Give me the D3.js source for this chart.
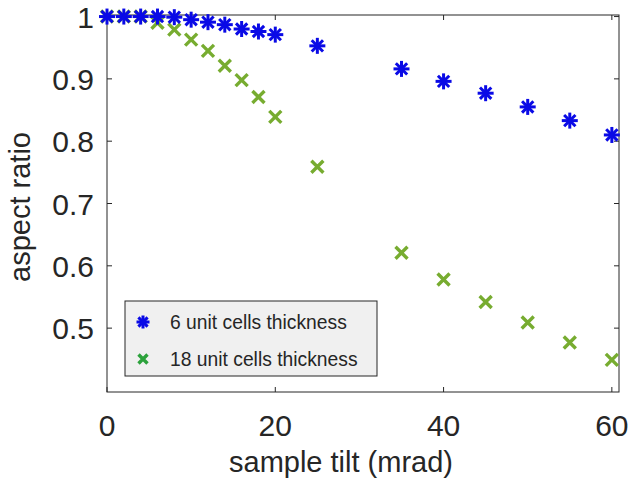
<!DOCTYPE html>
<html>
<head>
<meta charset="utf-8">
<script src="https://cdn.jsdelivr.net/npm/d3@7"></script>
<style>
    body { margin: 0; background: #fff; }
    text { font-family: "Liberation Sans", Arial, sans-serif; fill: #262626; }
</style>
</head>
<body>
<svg id="chart" width="633" height="482"></svg>
<script>
// sample tilt (mrad)
const tilt = [0, 2, 4, 6, 8, 10, 12, 14, 16, 18, 20, 25, 35, 40, 45, 50, 55, 60];
// aspect ratio, 6 unit cells
const ratio_6uc = [1.0, 1.0, 1.0, 1.0, 0.999, 0.995, 0.991, 0.987, 0.980, 0.976, 0.971, 0.953, 0.916, 0.896, 0.877, 0.855, 0.833, 0.810];
// aspect ratio, 18 unit cells
const ratio_18uc = [1.0, 1.0, 1.0, 0.990, 0.979, 0.963, 0.945, 0.921, 0.898, 0.871, 0.839, 0.759, 0.621, 0.578, 0.542, 0.509, 0.477, 0.449];
const xTicks = [0, 20, 40, 60];
const yTicks = [0.5, 0.6, 0.7, 0.8, 0.9, 1];
const series_names = ["6 unit cells thickness", "18 unit cells thickness"];

const pLeft = 107, pRight = 619, pTop = 15, pBottom = 392;

const svg = d3.select("#chart");

let xScale = d3.scaleLinear().domain([0, 60.85]).range([pLeft, pRight]);
let yScale = d3.scaleLinear().domain([0.3975, 1.0025]).range([pBottom, pTop]);

// box
svg.append("rect")
    .attr("x", pLeft).attr("y", pTop)
    .attr("width", pRight - pLeft).attr("height", pBottom - pTop)
    .attr("fill", "none").attr("stroke", "#262626").attr("stroke-width", 1);

// inward ticks on all four sides
const tk = 5;
let gTicks = svg.append("g").attr("stroke", "#262626").attr("stroke-width", 1);
xTicks.forEach(t => {
    let x = xScale(t);
    gTicks.append("line").attr("x1", x).attr("x2", x).attr("y1", pBottom).attr("y2", pBottom - tk);
    gTicks.append("line").attr("x1", x).attr("x2", x).attr("y1", pTop).attr("y2", pTop + tk);
});
yTicks.forEach(t => {
    let y = yScale(t);
    gTicks.append("line").attr("x1", pLeft).attr("x2", pLeft + tk).attr("y1", y).attr("y2", y);
    gTicks.append("line").attr("x1", pRight).attr("x2", pRight - tk).attr("y1", y).attr("y2", y);
});

// tick labels
svg.append("g").selectAll("text")
    .data(xTicks)
    .enter()
    .append("text")
    .attr("x", d => xScale(d))
    .attr("y", 436)
    .attr("text-anchor", "middle")
    .attr("font-size", 30)
    .text(d => d);

svg.append("g").selectAll("text")
    .data(yTicks)
    .enter()
    .append("text")
    .attr("x", 94)
    .attr("y", d => yScale(d) + 11)
    .attr("text-anchor", "end")
    .attr("font-size", 30)
    .text(d => d);

// axis titles
svg.append("text")
    .attr("x", 341)
    .attr("y", 472)
    .attr("text-anchor", "middle")
    .attr("font-size", 29)
    .attr("fill", "#000")
    .text("sample tilt (mrad)");

svg.append("text")
    .attr("transform", `translate(30, 207) rotate(-90)`)
    .attr("text-anchor", "middle")
    .attr("font-size", 29)
    .attr("fill", "#000")
    .text("aspect ratio");

// markers
const blue = "#0a0ae6", green = "#77ac30";

function star (g, size, color) {
    let r = size / 2;
    for (let a = 0; a < 180; a += 45) {
        let rad = a * Math.PI / 180;
        g.append("line")
            .attr("x1", -r * Math.cos(rad)).attr("y1", -r * Math.sin(rad))
            .attr("x2", r * Math.cos(rad)).attr("y2", r * Math.sin(rad))
            .attr("stroke", color).attr("stroke-width", 3).attr("stroke-linecap", "butt");
    }
}
function cross (g, size, color) {
    let r = size / 2;
    g.append("path")
        .attr("d", `M${-r},${-r}L${r},${r}M${-r},${r}L${r},${-r}`)
        .attr("stroke", color).attr("stroke-width", 3.4).attr("fill", "none");
}

let gData = svg.append("g");
let g18 = gData.selectAll(".m18")
    .data(tilt.map((t, i) => ({x: t, y: ratio_18uc[i]})))
    .enter()
    .append("g")
    .attr("class", "m18")
    .attr("transform", d => `translate(${xScale(d.x)}, ${yScale(d.y)})`);
g18.each(function () { cross(d3.select(this), 12, green); });

let g6 = gData.selectAll(".m6")
    .data(tilt.map((t, i) => ({x: t, y: ratio_6uc[i]})))
    .enter()
    .append("g")
    .attr("class", "m6")
    .attr("transform", d => `translate(${xScale(d.x)}, ${yScale(d.y)})`);
g6.each(function () { star(d3.select(this), 16, blue); });

// legend
let legend = svg.append("g");
legend.append("rect")
    .attr("x", 125).attr("y", 301)
    .attr("width", 252).attr("height", 75)
    .attr("fill", "#f0f0f0").attr("stroke", "#262626").attr("stroke-width", 1);

let l1 = legend.append("g").attr("transform", "translate(143, 322)");
star(l1, 13, blue);
let l2 = legend.append("g").attr("transform", "translate(143, 359)");
cross(l2, 9, "#2ca23c");

legend.selectAll(".ltext")
    .data(series_names)
    .enter()
    .append("text")
    .attr("class", "ltext")
    .attr("x", 170)
    .attr("y", (d, i) => 329 + i * 36.5)
    .attr("font-size", 19.3)
    .attr("fill", "#000")
    .text(d => d);
</script>
</body>
</html>
